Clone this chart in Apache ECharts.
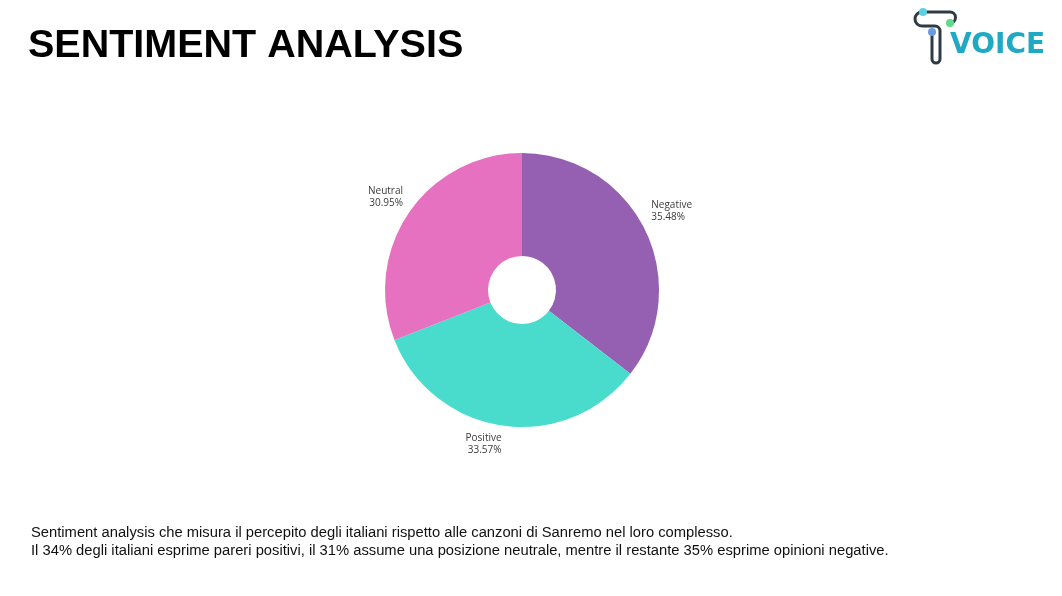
<!DOCTYPE html>
<html>
<head>
<meta charset="utf-8">
<script src="https://cdn.jsdelivr.net/npm/echarts@6/dist/echarts.min.js"></script>
<style>
  html, body { margin: 0; padding: 0; background: #fff; }
  #main { width: 1062px; height: 596px; }
</style>
</head>
<body>
<div id="main"></div>
<script>
// dati
var categories = ['Negative', 'Positive', 'Neutral'];
var values = [35.48, 33.57, 30.95];
var colors = ['#9560B1', '#49DCCD', '#E671C1'];

var chart = echarts.init(document.getElementById('main'));

var pieCenter = [522, 290];
var pieRadius = [34, 137];
var labelDist = 144;

// angolo medio di ogni fetta (gradi, partendo da 90 in senso orario)
var total = values.reduce(function (a, b) { return a + b; }, 0);
var midAngles = [];
var acc = 0;
values.forEach(function (v) {
    midAngles.push(90 - (acc + v / 2) / total * 360);
    acc += v;
});

// logo: segmenti e archi
var logoStroke = { fill: null, stroke: '#2E3B46', lineWidth: 3 };
var PI = Math.PI;
var logo = [
    { type: 'polyline', shape: { points: [[923, 12], [950, 12]] }, style: logoStroke },
    { type: 'arc', shape: { cx: 950, cy: 17.5, r: 5.5, startAngle: -PI / 2, endAngle: PI / 2, clockwise: true }, style: logoStroke },
    { type: 'arc', shape: { cx: 922, cy: 19, r: 7, startAngle: PI / 2, endAngle: 3 * PI / 2, clockwise: true }, style: logoStroke },
    { type: 'polyline', shape: { points: [[922, 26], [935, 26]] }, style: logoStroke },
    { type: 'arc', shape: { cx: 935, cy: 31, r: 5, startAngle: -PI / 2, endAngle: 0, clockwise: true }, style: logoStroke },
    { type: 'polyline', shape: { points: [[940, 31], [940, 59]] }, style: logoStroke },
    { type: 'arc', shape: { cx: 936, cy: 59, r: 4, startAngle: 0, endAngle: PI, clockwise: true }, style: logoStroke },
    { type: 'polyline', shape: { points: [[932, 59], [932, 33]] }, style: logoStroke },
    { type: 'circle', shape: { cx: 923, cy: 12, r: 4 }, style: { fill: '#5FD0E0' } },
    { type: 'circle', shape: { cx: 950, cy: 23, r: 4 }, style: { fill: '#5EDB86' } },
    { type: 'circle', shape: { cx: 932, cy: 32, r: 4 }, style: { fill: '#6A9BE0' } },
    {
        type: 'text',
        x: 950,
        y: 32,
        style: {
            text: 'VOICE',
            fontFamily: 'DejaVu Sans',
            fontWeight: 'bold',
            fontSize: 28,
            fill: '#20A9C2'
        }
    }
];

var option = {
    backgroundColor: '#ffffff',
    animation: false,
    title: {
        text: 'SENTIMENT ANALYSIS',
        left: 23,
        top: 21,
        textStyle: {
            fontFamily: 'Liberation Sans',
            fontWeight: 'bold',
            fontSize: 39.5,
            color: '#000'
        }
    },
    graphic: [
        // testo sotto il grafico
        {
            type: 'text',
            x: 31,
            y: 524,
            style: {
                text: 'Sentiment analysis che misura il percepito degli italiani rispetto alle canzoni di Sanremo nel loro complesso.\nIl 34% degli italiani esprime pareri positivi, il 31% assume una posizione neutrale, mentre il restante 35% esprime opinioni negative.',
                fontFamily: 'Liberation Sans',
                fontSize: 14.75,
                lineHeight: 18,
                fill: '#111'
            }
        }
    ].concat(logo),
    series: [{
        name: 'Sentiment',
        type: 'pie',
        center: pieCenter,
        radius: pieRadius,
        startAngle: 90,
        clockwise: true,
        color: colors,
        label: {
            show: true,
            position: 'outside',
            formatter: function (p) {
                return p.name + '\n' + p.value.toFixed(2) + '%';
            },
            fontFamily: 'Open Sans',
            fontSize: 10,
            lineHeight: 12,
            color: '#3a3a3a'
        },
        labelLine: { show: false, length: 6, length2: 0 },
        // etichetta appoggiata al punto a labelDist lungo l'angolo medio
        labelLayout: function (p) {
            var a = midAngles[p.dataIndex] * PI / 180;
            var dx = Math.cos(a), dy = -Math.sin(a);
            return {
                x: pieCenter[0] + dx * labelDist,
                y: pieCenter[1] + dy * labelDist - (dy < 0 && dx > 0 ? 3 : 0),
                align: dx >= 0 ? 'left' : 'right',
                verticalAlign: dy < 0 ? 'bottom' : 'top'
            };
        },
        emphasis: { disabled: true },
        data: categories.map(function (c, i) {
            return { name: c, value: values[i] };
        })
    }]
};

chart.setOption(option);
</script>
</body>
</html>
